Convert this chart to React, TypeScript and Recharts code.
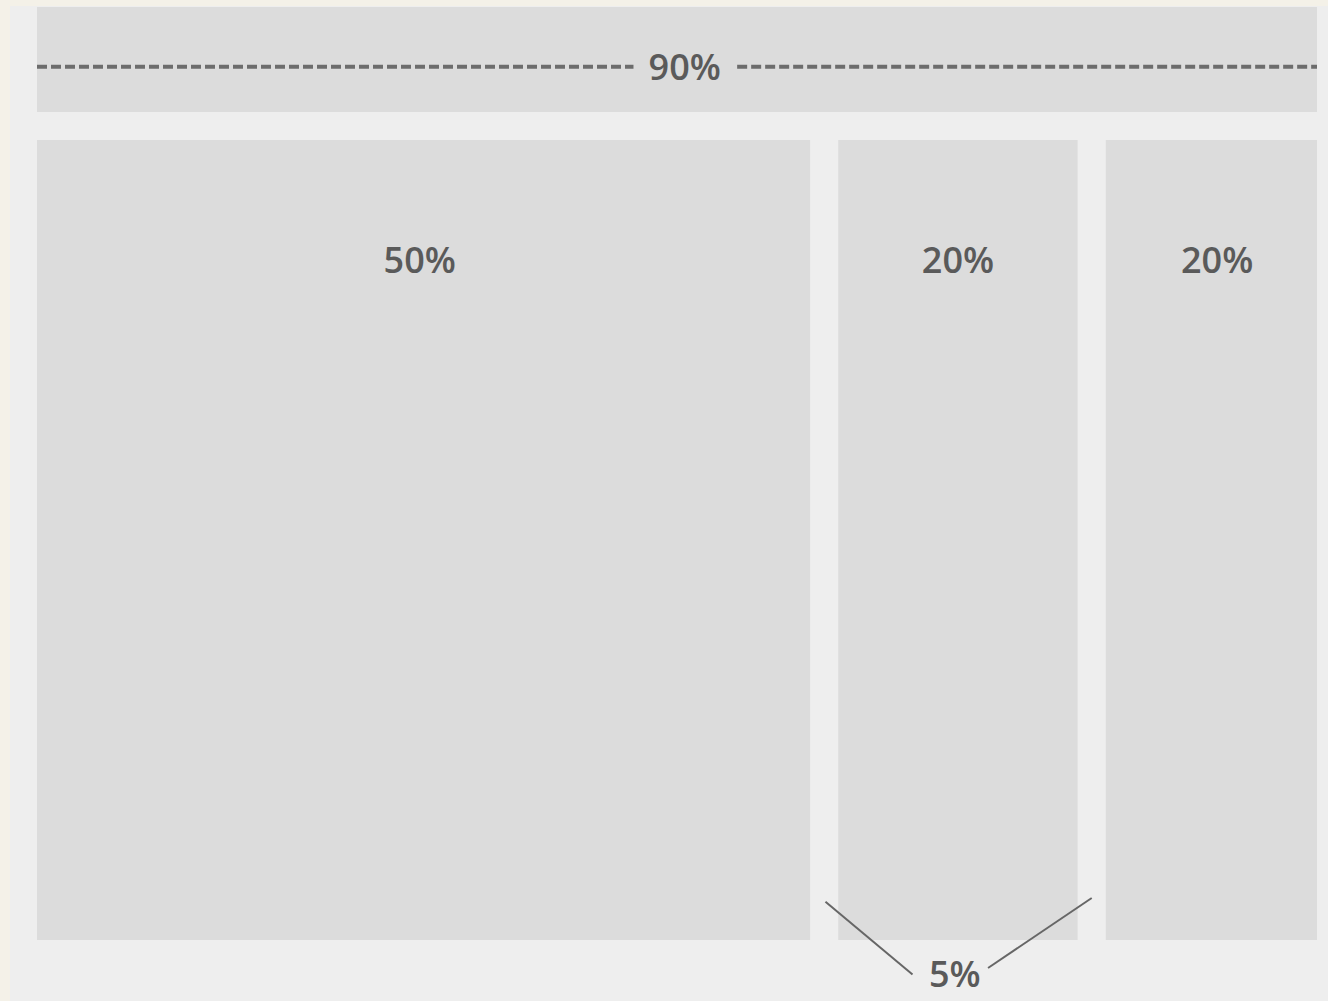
import React from 'react';
import { ComposedChart, XAxis, YAxis, ReferenceArea, ReferenceLine, ReferenceDot } from 'recharts';

// horizontal units: share of the full width (0..100)
const columnLabels = ['50%', '20%', '20%'];
const columnWidths = [60.4, 18.7, 16.5];
const columnGap = 2.2;
const columnLabelX = [29.9, 71.95, 92.2];

// vertical units: 0 = bottom of the columns, 100 = top of the header band
const columnTop = 85.75;
const headerBand = [88.75, 100];
const headerLine = 93.6;
const headerLabel = '90%';
const headerLabelX = 50.6;
const headerGap = [46.6, 54.7];
const columnLabelY = 72.9;

const gapLabel = '5%';
const gapLabelPoint = { x: 71.7, y: -3.6 };
const gapPointers = [
  [{ x: 61.6, y: 4.1 }, { x: 68.4, y: -3.7 }],
  [{ x: 74.3, y: -3.0 }, { x: 82.4, y: 4.5 }],
];

const fill = '#dcdcdc';
const ink = '#5a5a5a';

const starts = columnWidths.map((w, i) =>
  columnWidths.slice(0, i).reduce((s, v) => s + v + columnGap, 0)
);

const textLabel = (value: string) => (props: any) => {
  const { viewBox } = props;
  return (
    <text
      x={viewBox.x}
      y={viewBox.y}
      textAnchor="middle"
      dominantBaseline="central"
      fontFamily="'Open Sans', sans-serif"
      fontSize={36}
      fontWeight={600}
      fill={ink}
    >
      {value}
    </text>
  );
};

export default function App() {
  return (
    <div style={{ position: 'absolute', left: 0, top: 0, width: 1328, height: 1001, background: '#f4f1e8' }}>
      <div style={{ position: 'absolute', left: 10, top: 6, right: 0, bottom: 0, background: '#eeeeee' }} />
      <div style={{ position: 'absolute', left: 37, top: 7 }}>
        <ComposedChart width={1280} height={994} data={[]} margin={{ top: 0, right: 0, bottom: 0, left: 0 }}>
          <XAxis type="number" dataKey="x" domain={[0, 100]} hide allowDataOverflow />
          <YAxis type="number" dataKey="y" domain={[-6.54, 100]} hide allowDataOverflow />
          <ReferenceArea x1={0} x2={100} y1={headerBand[0]} y2={headerBand[1]} fill={fill} fillOpacity={1} stroke="none" />
          <ReferenceLine
            segment={[{ x: 0, y: headerLine }, { x: headerGap[0], y: headerLine }]}
            stroke="#6c6c6c" strokeWidth={4} strokeDasharray="10 4"
          />
          <ReferenceLine
            segment={[{ x: headerGap[1], y: headerLine }, { x: 100, y: headerLine }]}
            stroke="#6c6c6c" strokeWidth={4} strokeDasharray="10 4"
          />
          <ReferenceDot x={headerLabelX} y={headerLine} r={0} stroke="none" fill="none" label={{ content: textLabel(headerLabel) }} />
          {columnWidths.map((w, i) => (
            <ReferenceArea
              key={'col' + i}
              x1={starts[i]} x2={starts[i] + w} y1={0} y2={columnTop}
              fill={fill} fillOpacity={1} stroke="none"
            />
          ))}
          {columnLabels.map((label, i) => (
            <ReferenceDot
              key={'lab' + i}
              x={columnLabelX[i]} y={columnLabelY} r={0} stroke="none" fill="none"
              label={{ content: textLabel(label) }}
            />
          ))}
          {gapPointers.map((seg, i) => (
            <ReferenceLine key={'ptr' + i} segment={seg} stroke="#666666" strokeWidth={2} ifOverflow="visible" />
          ))}
          <ReferenceDot x={gapLabelPoint.x} y={gapLabelPoint.y} r={0} stroke="none" fill="none" label={{ content: textLabel(gapLabel) }} />
        </ComposedChart>
      </div>
    </div>
  );
}
